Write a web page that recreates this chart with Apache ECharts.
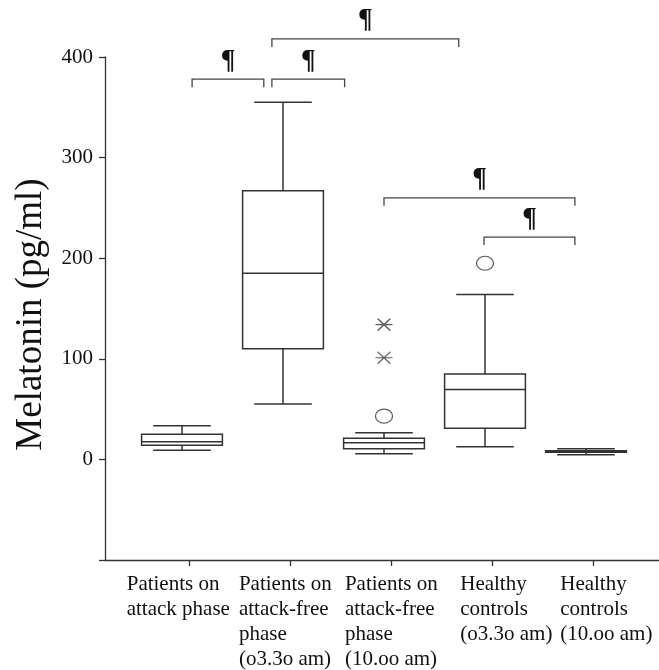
<!DOCTYPE html>
<html><head><meta charset="utf-8">
<script src="https://cdn.jsdelivr.net/npm/echarts@6/dist/echarts.min.js"></script>
<style>html,body{margin:0;padding:0;background:#fff}#c{width:659px;height:670px}</style>
</head><body><div id="c"></div>
<script>
const categories = [
  'Patients on\nattack phase',
  'Patients on\nattack-free\nphase\n(o3.3o am)',
  'Patients on\nattack-free\nphase\n(10.oo am)',
  'Healthy\ncontrols\n(o3.3o am)',
  'Healthy\ncontrols\n(10.oo am)'
];
const whiskerLow  = [9, 55, 5.5, 12.5, 4.5];
const quartile1   = [14, 110, 10.5, 31, 7];
const medians     = [17.5, 185, 16.5, 69.5, 7.5];
const quartile3   = [25, 267, 21, 85, 8.5];
const whiskerHigh = [33.5, 355, 26.5, 164, 10.5];
const circleOutliers = [[2, 43], [3, 195]];
const starOutliers = [[2, 101], [2, 134]];
const yMin = -100, yMax = 400, yStep = 100;
const bracketFrom  = [0.1, 0.89, 0.89, 2.0, 2.99];
const bracketTo    = [0.81, 1.61, 2.74, 3.89, 3.89];
const bracketLevel = [378, 378, 418, 260, 221];
const bracketMark  = ['¶', '¶', '¶', '¶', '¶'];

const SERIF = "'Liberation Serif', 'Times New Roman', serif";
const LINE = '#333';
const labelPad = [[0, 22, 0, 0], [0, 10, 0, 0], [0, 0, 0, 0], [0, 0, 0, 28], [0, 0, 0, 26]];
const rich = {};
labelPad.forEach((p, i) => {
  rich['c' + i] = { align: 'left', fontFamily: SERIF, fontSize: 21, lineHeight: 25, color: '#111', padding: p };
});

const chart = echarts.init(document.getElementById('c'));
const gridTop = 57, gridBottom = 110;
chart.setOption({
  animation: false,
  backgroundColor: '#fff',
  grid: [
    { left: 105, right: 0, top: gridTop, bottom: gridBottom },
    { left: 138.8, width: 505, top: gridTop, bottom: gridBottom },
    { left: 131.5, width: 505, top: gridTop, bottom: gridBottom }
  ],
  xAxis: [
    { gridIndex: 0, type: 'value', min: 0, max: 1,
      axisLine: { show: true, onZero: false, lineStyle: { color: LINE, width: 1.3 } },
      axisTick: { show: false }, axisLabel: { show: false }, splitLine: { show: false } },
    { gridIndex: 1, type: 'category', data: categories, boundaryGap: true,
      axisLine: { show: false, onZero: false },
      axisTick: { show: true, alignWithLabel: true, length: 6, lineStyle: { color: LINE, width: 1.3 } },
      axisLabel: { margin: 12, align: 'center', interval: 0,
        formatter: (v, i) => v.split('\n').map(s => '{c' + i + '|' + s + '}').join('\n'), rich: rich },
      splitLine: { show: false } },
    { gridIndex: 2, type: 'value', min: -0.5, max: 4.5, show: false, axisLine: { onZero: false } }
  ],
  yAxis: [
    { gridIndex: 0, type: 'value', min: yMin, max: yMax, interval: yStep,
      axisLine: { show: true, onZero: false, lineStyle: { color: LINE, width: 1.3 } },
      axisTick: { show: true, length: 6, lineStyle: { color: LINE, width: 1.3 } },
      axisLabel: { margin: 12, fontFamily: SERIF, fontSize: 21, color: '#111', formatter: v => (v < 0 ? '' : String(v)) },
      splitLine: { show: false },
      name: 'Melatonin (pg/ml)', nameLocation: 'middle', nameGap: 55, nameRotate: 90,
      nameTextStyle: { fontFamily: SERIF, fontSize: 37, color: '#111', padding: [0, 12, 0, 0] } },
    { gridIndex: 1, type: 'value', min: yMin, max: yMax, show: false, axisLine: { onZero: false } },
    { gridIndex: 2, type: 'value', min: yMin, max: yMax, show: false, axisLine: { onZero: false } }
  ],
  series: [
    {
      type: 'custom', xAxisIndex: 2, yAxisIndex: 2, clip: false,
      data: categories.map((c, i) => [i, whiskerLow[i], quartile1[i], medians[i], quartile3[i], whiskerHigh[i]]),
      encode: { x: 0, y: [1, 2, 3, 4, 5] },
      renderItem: (params, api) => {
        const x = api.value(0);
        const pLo = api.coord([x, api.value(1)]);
        const pQ1 = api.coord([x, api.value(2)]);
        const pMd = api.coord([x, api.value(3)]);
        const pQ3 = api.coord([x, api.value(4)]);
        const pHi = api.coord([x, api.value(5)]);
        const bw = api.size([1, 0])[0];
        const half = bw * 0.4, cap = bw * 0.285, cx = pMd[0];
        const st = { stroke: LINE, lineWidth: 1.5, fill: null };
        return { type: 'group', children: [
          { type: 'line', shape: { x1: cx, y1: pQ3[1], x2: cx, y2: pHi[1] }, style: st },
          { type: 'line', shape: { x1: cx, y1: pQ1[1], x2: cx, y2: pLo[1] }, style: st },
          { type: 'line', shape: { x1: cx - cap, y1: pHi[1], x2: cx + cap, y2: pHi[1] }, style: st },
          { type: 'line', shape: { x1: cx - cap, y1: pLo[1], x2: cx + cap, y2: pLo[1] }, style: st },
          { type: 'rect', shape: { x: cx - half, y: pQ3[1], width: half * 2, height: pQ1[1] - pQ3[1] }, style: { stroke: LINE, lineWidth: 1.5, fill: '#fff' } },
          { type: 'line', shape: { x1: cx - half, y1: pMd[1], x2: cx + half, y2: pMd[1] }, style: st }
        ] };
      }
    },
    {
      type: 'custom', xAxisIndex: 2, yAxisIndex: 2, clip: false,
      data: bracketFrom.map((f, i) => [f, bracketTo[i], bracketLevel[i]]),
      encode: { x: [0, 1], y: 2 },
      renderItem: (params, api) => {
        const a = api.coord([api.value(0), api.value(2)]);
        const b = api.coord([api.value(1), api.value(2)]);
        const leg = 8;
        return { type: 'group', children: [
          { type: 'polyline', shape: { points: [[a[0], a[1] + leg], [a[0], a[1]], [b[0], b[1]], [b[0], b[1] + leg]] },
            style: { stroke: '#444', lineWidth: 1.3, fill: null } },
          { type: 'text', x: (a[0] + b[0]) / 2, y: a[1] - 5,
            style: { text: bracketMark[params.dataIndex], font: 'bold 27px ' + SERIF, fill: '#111',
              align: 'center', verticalAlign: 'bottom', textAlign: 'center', textVerticalAlign: 'bottom' } }
        ] };
      }
    },
    {
      type: 'scatter', xAxisIndex: 2, yAxisIndex: 2, data: circleOutliers,
      symbol: 'circle', symbolSize: [17, 14],
      itemStyle: { color: '#fff', borderColor: LINE, borderWidth: 1.2 }
    },
    {
      type: 'scatter', xAxisIndex: 2, yAxisIndex: 2, data: starOutliers,
      symbol: 'path://M0,6L16,6M2,0L14,12M2,12L14,0', symbolSize: [17, 12],
      itemStyle: { color: 'none', borderColor: LINE, borderWidth: 1.3 }
    }
  ]
});
</script>
</body></html>
